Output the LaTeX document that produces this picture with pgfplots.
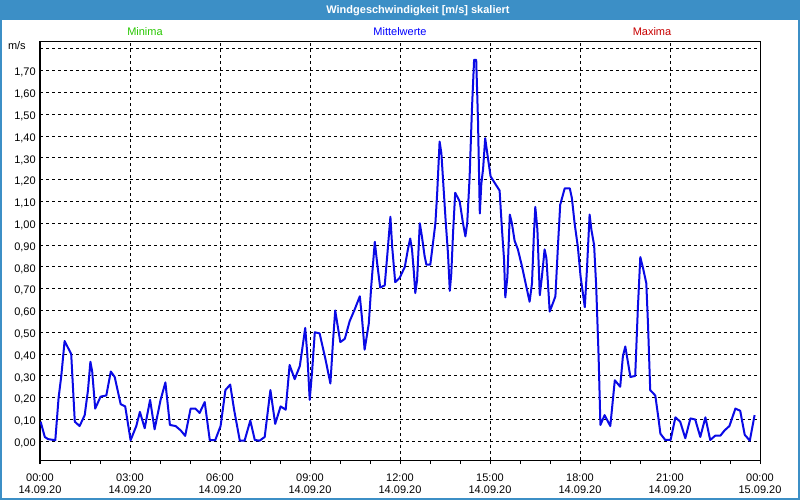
\documentclass[border=0pt]{standalone}
\usepackage{pgfplots}
\pgfplotsset{compat=1.18}
\usepackage{fontspec}
\setmainfont{Liberation Sans}
\definecolor{framebl}{RGB}{60,143,198}
\definecolor{lineblue}{RGB}{10,10,230}
\definecolor{mingreen}{RGB}{40,200,0}
\definecolor{maxred}{RGB}{200,0,0}
\newcommand{\lbl}{\fontsize{8.25}{11.25}\selectfont}
\begin{document}
\begin{tikzpicture}
\useasboundingbox (0,0) rectangle (600pt,-375pt);
\fill[white] (0,0) rectangle (600pt,-375pt);
\begin{scope}[x=0.75pt,y=-0.75pt]
\fill[framebl] (0,0) rectangle (800,20);
\draw[framebl, line width=1.5pt] (1,1) rectangle (799,499);
\node[text=white, font=\lbl\bfseries] at (418,10.5) {Windgeschwindigkeit [m/s] skaliert};
\node[text=mingreen, font=\lbl] at (145,31.5) {Minima};
\node[text=blue, font=\lbl] at (400,31.5) {Mittelwerte};
\node[text=maxred, font=\lbl] at (652,31.5) {Maxima};
\node[font=\lbl, anchor=east, inner sep=0pt] at (26,46) {m/s};
\end{scope}
\begin{axis}[
  at={(30pt,-345pt)}, anchor=south west,
  scale only axis, width=540pt, height=314.25pt,
  xmin=0, xmax=24, ymin=-0.0858, ymax=1.836,
  axis line style={black, line width=0.75pt},
  tick pos=left, tick align=outside,
  major tick length=3pt, minor tick length=3pt,
  xtick={0,3,6,9,12,15,18,21,24},
  xticklabels={{00:00\\[-2.25pt]14.09.20},{03:00\\[-2.25pt]14.09.20},{06:00\\[-2.25pt]14.09.20},{09:00\\[-2.25pt]14.09.20},{12:00\\[-2.25pt]14.09.20},{15:00\\[-2.25pt]14.09.20},{18:00\\[-2.25pt]14.09.20},{21:00\\[-2.25pt]14.09.20},{00:00\\[-2.25pt]15.09.20}},
  minor x tick num=2,
  x tick style={black, line width=0.75pt},
  y tick style={draw=none},
  ytick={0,0.1,0.2,0.3,0.4,0.5,0.6,0.7,0.8,0.9,1.0,1.1,1.2,1.3,1.4,1.5,1.6,1.7,1.8},
  yticklabels={{0,00},{0,10},{0,20},{0,30},{0,40},{0,50},{0,60},{0,70},{0,80},{0,90},{1,00},{1,10},{1,20},{1,30},{1,40},{1,50},{1,60},{1,70},{}},
  xticklabel style={font=\lbl, align=center, yshift=-3.5pt},
  yticklabel style={font=\lbl, xshift=3.3pt, yshift=-1.5pt},
  grid=major,
  major grid style={black, line width=0.75pt, dash pattern=on 2.25pt off 2.25pt},
]
\addplot[lineblue, line width=1.5pt, line join=round, mark=none] table {
x y
0.02 0.09
0.16 0.02
0.27 0.01
0.51 0.005
0.62 0.20
0.71 0.30
0.82 0.46
0.93 0.43
1.04 0.40
1.16 0.09
1.32 0.07
1.49 0.12
1.60 0.235
1.68 0.365
1.74 0.32
1.84 0.15
2.02 0.205
2.21 0.21
2.36 0.32
2.49 0.295
2.69 0.17
2.84 0.16
3.02 0.005
3.21 0.07
3.33 0.135
3.49 0.06
3.67 0.19
3.82 0.055
4.02 0.19
4.18 0.27
4.33 0.075
4.52 0.07
4.69 0.05
4.84 0.025
5.02 0.15
5.18 0.15
5.32 0.13
5.49 0.18
5.66 0.005
5.84 0.005
6.02 0.07
6.18 0.235
6.34 0.26
6.47 0.145
6.66 0.003
6.82 0.003
7.01 0.095
7.16 0.006
7.32 0.003
7.49 0.02
7.68 0.235
7.84 0.08
8.02 0.16
8.19 0.145
8.32 0.35
8.49 0.285
8.66 0.345
8.80 0.48
8.84 0.52
8.91 0.40
8.99 0.19
9.07 0.32
9.16 0.50
9.32 0.495
9.51 0.38
9.68 0.265
9.77 0.465
9.84 0.60
10.01 0.455
10.16 0.47
10.32 0.55
10.49 0.605
10.66 0.665
10.73 0.57
10.82 0.42
10.96 0.54
11.04 0.71
11.16 0.915
11.24 0.815
11.34 0.705
11.49 0.715
11.58 0.86
11.68 1.03
11.74 0.89
11.84 0.73
11.99 0.75
12.16 0.80
12.27 0.885
12.34 0.93
12.40 0.88
12.46 0.78
12.51 0.68
12.57 0.74
12.66 1.00
12.73 0.94
12.82 0.85
12.88 0.81
13.01 0.81
13.10 0.91
13.18 1.00
13.24 1.14
13.32 1.375
13.38 1.32
13.43 1.21
13.52 1.015
13.60 0.86
13.66 0.69
13.71 0.77
13.77 0.96
13.84 1.14
13.99 1.10
14.10 1.00
14.18 0.94
14.24 1.00
14.32 1.21
14.40 1.53
14.47 1.75
14.54 1.75
14.60 1.47
14.66 1.045
14.71 1.18
14.77 1.25
14.84 1.39
14.93 1.30
15.02 1.215
15.18 1.18
15.32 1.15
15.40 0.97
15.47 0.83
15.51 0.66
15.58 0.755
15.66 1.04
15.73 1.00
15.82 0.92
15.93 0.88
16.07 0.80
16.21 0.71
16.32 0.64
16.40 0.725
16.46 0.94
16.51 1.075
16.58 0.97
16.66 0.67
16.73 0.755
16.82 0.88
16.88 0.84
16.99 0.595
17.10 0.635
17.18 0.665
17.27 0.91
17.34 1.085
17.49 1.16
17.66 1.16
17.73 1.115
17.82 1.00
17.93 0.89
18.02 0.755
18.16 0.615
18.23 0.785
18.32 1.04
18.38 0.97
18.47 0.90
18.54 0.71
18.62 0.39
18.68 0.075
18.82 0.12
19.01 0.07
19.16 0.28
19.34 0.25
19.43 0.39
19.51 0.435
19.68 0.295
19.84 0.30
19.93 0.615
20.01 0.845
20.10 0.795
20.21 0.725
20.27 0.525
20.34 0.235
20.51 0.21
20.62 0.10
20.68 0.035
20.84 0.006
21.02 0.006
21.18 0.11
21.34 0.09
21.51 0.014
21.68 0.105
21.84 0.10
22.01 0.02
22.18 0.11
22.34 0.006
22.51 0.026
22.68 0.026
22.82 0.05
22.98 0.07
23.18 0.15
23.34 0.14
23.49 0.03
23.66 0.003
23.82 0.12
};
\end{axis}
\end{tikzpicture}
\end{document}
